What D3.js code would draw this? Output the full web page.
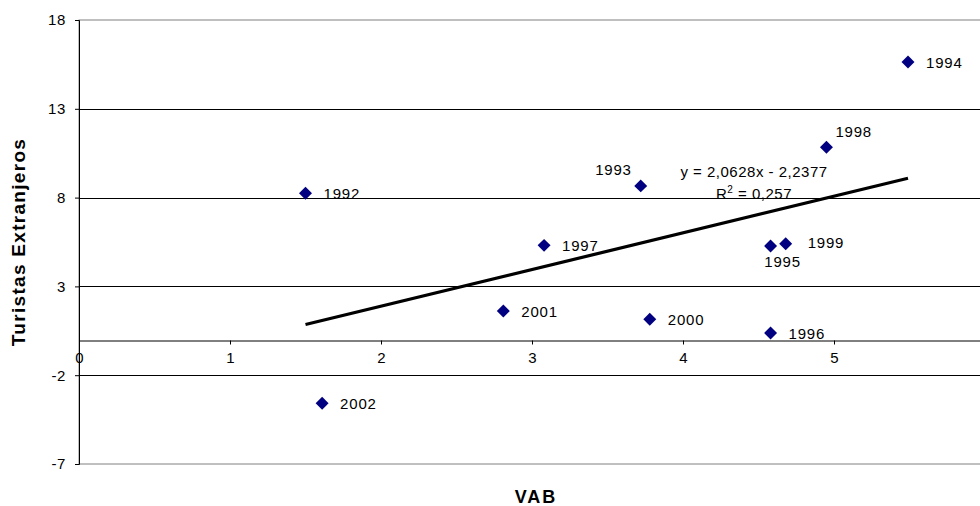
<!DOCTYPE html>
<html>
<head>
<meta charset="utf-8">
<script src="https://cdn.jsdelivr.net/npm/d3@7"></script>
<style>
  body { margin: 0; background: #fff; }
  svg { display: block; font-family: "Liberation Sans", Arial, sans-serif; }
</style>
</head>
<body>
<div id="figure"></div>
<script>
// data
var years = [1992, 1993, 1994, 1995, 1996, 1997, 1998, 1999, 2000, 2001, 2002];
var vab = [1.50, 3.72, 5.49, 4.58, 4.58, 3.08, 4.95, 4.68, 3.78, 2.81, 1.61];
var turistas = [8.24, 8.66, 15.63, 5.28, 0.38, 5.31, 10.83, 5.40, 1.15, 1.61, -3.58];
var yTicks = [-7, -2, 3, 8, 13, 18];
var xTicks = [0, 1, 2, 3, 4, 5];
var slope = 2.0628, intercept = -2.2377;
var eqText = "y = 2,0628x - 2,2377";
var r2Text = "0,257";

// where each year label sits relative to its marker
var labelPos = {1993: "aboveLeft", 1995: "below", 1998: "aboveRight", 1999: "farRight"};

const W = 980, H = 506;
const svg = d3.select("#figure").append("svg")
  .attr("width", W).attr("height", H);

const x = d3.scaleLinear().domain([0, 6]).range([79, 985]);
const y = d3.scaleLinear().domain([-7, 18]).range([464, 20]);
const fmt = d => String(d); // plain hyphen minus, like the original

// plot area border
svg.append("rect")
  .attr("x", x(0)).attr("y", y(18))
  .attr("width", x(6) - x(0)).attr("height", y(-7) - y(18))
  .attr("fill", "none").attr("stroke", "#808080").attr("stroke-width", 1);

// gridlines
svg.append("g").selectAll("line")
  .data(yTicks.filter(d => d != 18 && d != -7))
  .join("line")
  .attr("x1", x(0)).attr("x2", x(6))
  .attr("y1", d => Math.round(y(d)) + 0.5).attr("y2", d => Math.round(y(d)) + 0.5)
  .attr("stroke", "#000").attr("stroke-width", 1);

// y axis
const yAxis = svg.append("g")
  .attr("transform", `translate(${x(0)},0)`)
  .call(d3.axisLeft(y).tickValues(yTicks).tickSize(4).tickPadding(9).tickFormat(fmt));
yAxis.select(".domain").attr("stroke", "#000");
yAxis.selectAll("text").attr("font-size", 15).attr("fill", "#000")
  .attr("font-family", "Liberation Sans, Arial, sans-serif").attr("letter-spacing", 0.6);

// x axis through y = 0
const xAxis = svg.append("g")
  .attr("transform", `translate(0,${Math.round(y(0)) + 0.5})`)
  .call(d3.axisBottom(x).tickValues(xTicks).tickSize(4).tickPadding(8).tickFormat(fmt));
xAxis.select(".domain").attr("stroke", "#000");
xAxis.selectAll("text").attr("font-size", 15).attr("fill", "#000")
  .attr("font-family", "Liberation Sans, Arial, sans-serif");

// trend line over the data range
const xMin = d3.min(vab), xMax = d3.max(vab);
svg.append("line")
  .attr("x1", x(xMin)).attr("y1", y(slope * xMin + intercept))
  .attr("x2", x(xMax)).attr("y2", y(slope * xMax + intercept))
  .attr("stroke", "#000").attr("stroke-width", 3.2);

const pts = years.map((yr, i) => ({year: yr, vx: vab[i], vy: turistas[i]}));

// markers
svg.append("g").selectAll("path")
  .data(pts)
  .join("path")
  .attr("d", d3.symbol(d3.symbolSquare, 84))
  .attr("transform", d => `translate(${x(d.vx)},${y(d.vy)}) rotate(45)`)
  .attr("fill", "#000080");

// year labels
const off = {
  right: [18, 6, "start"],
  farRight: [22, 4, "start"],
  aboveLeft: [-9, -11, "end"],
  aboveRight: [9, -10, "start"],
  below: [12, 21, "middle"]
};
svg.append("g").selectAll("text")
  .data(pts)
  .join("text")
  .attr("x", d => x(d.vx) + off[labelPos[d.year] || "right"][0])
  .attr("y", d => y(d.vy) + off[labelPos[d.year] || "right"][1])
  .attr("text-anchor", d => off[labelPos[d.year] || "right"][2])
  .attr("font-size", 15).attr("letter-spacing", 0.8).attr("fill", "#000")
  .text(d => d.year);

// equation
const eq = svg.append("g").attr("font-size", 15).attr("letter-spacing", 0.5).attr("fill", "#000");
eq.append("text").attr("x", 754).attr("y", 177).attr("text-anchor", "middle").text(eqText);
const r2 = eq.append("text").attr("x", 754).attr("y", 199).attr("text-anchor", "middle");
r2.append("tspan").text("R");
r2.append("tspan").attr("font-size", 10).attr("dy", -6).text("2");
r2.append("tspan").attr("dy", 6).text(" = " + r2Text);

// axis titles
svg.append("text")
  .attr("x", 536).attr("y", 503)
  .attr("text-anchor", "middle")
  .attr("font-size", 18).attr("font-weight", "bold").attr("letter-spacing", 2)
  .text("VAB");
svg.append("text")
  .attr("transform", "translate(25,242) rotate(-90)")
  .attr("text-anchor", "middle")
  .attr("font-size", 19).attr("font-weight", "bold").attr("letter-spacing", 1.3)
  .text("Turistas Extranjeros");
</script>
</body>
</html>
